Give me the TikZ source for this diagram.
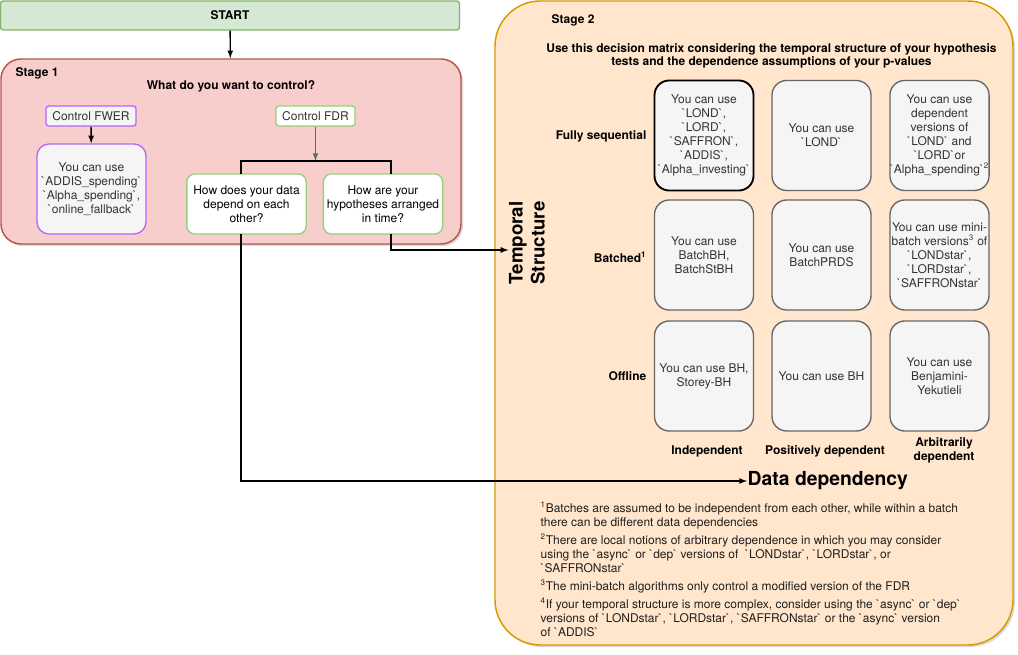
\documentclass[tikz,border=0pt]{standalone}
\usepackage{fontspec}
\setmainfont{TeX Gyre Heros}
\usetikzlibrary{shadows}
\newcommand\bq{\textasciigrave}
\definecolor{startfill}{HTML}{D5E8D4}
\definecolor{startline}{HTML}{82B366}
\definecolor{onefill}{HTML}{F8CECC}
\definecolor{oneline}{HTML}{B85450}
\definecolor{twofill}{HTML}{FFE6CC}
\definecolor{twoline}{HTML}{D79B00}
\definecolor{fwerline}{HTML}{B266FF}
\definecolor{fdrline}{HTML}{97D077}
\definecolor{cellfill}{HTML}{F5F5F5}
\definecolor{cellline}{HTML}{666666}
\definecolor{celltext}{HTML}{333333}
\begin{document}
\begin{tikzpicture}[>=latex, x=0.75pt, y=-0.75pt, line width=1pt,
  font=\fontsize{9}{10.5}\selectfont,
  box/.style={draw, align=center, inner sep=0pt},
  stagebox/.style={box, line width=1.1pt, drop shadow={shadow xshift=1.5pt, shadow yshift=-1.5pt, opacity=0.3}},
  question/.style={box, fill=white, draw=fdrline, rounded corners=6pt, minimum width=89.5pt, minimum height=45pt},
  cell/.style={box, fill=cellfill, draw=cellline, text=celltext, rounded corners=11pt, minimum width=74.25pt, minimum height=82.5pt},
  head/.style={font=\fontsize{9}{10.5}\selectfont\bfseries, align=center, inner sep=0pt},
  big/.style={font=\fontsize{14}{16.5}\selectfont\bfseries, align=center, inner sep=0pt}]
\useasboundingbox (0,0) rectangle (1018,655);

% stage boxes
\node[stagebox, fill=onefill, draw=oneline, rounded corners=15pt, minimum width=345pt, minimum height=138.75pt] (stage1) at (231,151.5){};
\node[stagebox, fill=twofill, draw=twoline, rounded corners=34pt, minimum width=388.5pt, minimum height=483pt] (stage2) at (754,323){};
\node[box, fill=startfill, draw=startline, rounded corners=2pt, minimum width=344.25pt, minimum height=21.75pt, head] (start) at (230,15.5){START};

% stage 1
\node[head, anchor=west] (s1) at (15,73){Stage 1};
\node[head] (want) at (231,86){What do you want to control?};
\node[box, fill=cellfill, draw=fwerline, rounded corners=2pt, minimum width=67.5pt, minimum height=15pt, text=celltext] (fwer) at (91,116){Control FWER};
\node[box, fill=cellfill, draw=fwerline, rounded corners=9pt, minimum width=81.75pt, minimum height=67.5pt, text=celltext] (fweruse) at (91.5,189)
  {You can use\\\bq ADDIS\_spending\bq\\\bq Alpha\_spending\bq,\\\bq online\_fallback\bq};
\node[box, fill=white, draw=fdrline, rounded corners=2pt, minimum width=59.25pt, minimum height=15pt, text=celltext] (fdr) at (315.5,116){Control FDR};
\node[question] (dq) at (246.5,204){How does your data\\depend on each\\other?};
\node[question] (tq) at (383,204){How are your\\hypotheses arranged\\in time?};
\coordinate (split) at (315.5,161);
\coordinate (dqin) at (241,174); \coordinate (dqout) at (241,234);
\coordinate (tqin) at (391,174); \coordinate (tqout) at (391,234);

% stage 2
\node[head, anchor=west] (s2) at (551,20.5){Stage 2};
\node[head, font=\fontsize{9}{10}\selectfont\bfseries] (title) at (771.5,56)
  {Use this decision matrix considering the temporal structure of your hypothesis\\tests and the dependence assumptions of your p-values};
\node[big, rotate=90] (temporal) at (527,243){Temporal\\Structure};
\node[big, anchor=west, font=\fontsize{14.5}{16.5}\selectfont\bfseries] (datadep) at (747,481){Data dependency};

\node[head, anchor=east] (seq) at (647,136){Fully sequential};
\node[head, anchor=east] (bat) at (647,257){Batched\textsuperscript{1}};
\node[head, anchor=east] (off) at (647,376){Offline};

\node[cell, draw=black, line width=1.4pt] (c11) at (704,135.5){You can use\\\bq LOND\bq,\\\bq LORD\bq,\\\bq SAFFRON\bq,\\\bq ADDIS\bq,\\\bq Alpha\_investing\bq};
\node[cell] (c12) at (821.5,135.5){You can use\\\bq LOND\bq};
\node[cell] (c13) at (939.5,135.5){You can use\\dependent\\versions of\\\bq LOND\bq{} and\\\bq LORD\bq or\\\bq Alpha\_spending\bq\textsuperscript{2}};
\node[cell] (c21) at (704,255){You can use\\BatchBH,\\BatchStBH};
\node[cell] (c22) at (821.5,255){You can use\\BatchPRDS};
\node[cell] (c23) at (939.5,255){You can use mini-\\batch versions\textsuperscript{3} of\\\bq LONDstar\bq,\\\bq LORDstar\bq,\\\bq SAFFRONstar\bq};
\node[cell] (c31) at (704,376){You can use BH,\\Storey-BH};
\node[cell] (c32) at (821.5,376){You can use BH};
\node[cell] (c33) at (939.5,376){You can use\\Benjamini-\\Yekutieli};

\node[head] (indep) at (707,451){Independent};
\node[head] (posdep) at (825,451){Positively dependent};
\node[head] (arbdep) at (944,450){Arbitrarily\\dependent};

\node[anchor=north west, align=left, inner sep=0pt, text=celltext!60!black] (notes) at (540,501)
  {\textsuperscript{1}Batches are assumed to be independent from each other, while within a batch\\
   there can be different data dependencies\\[3pt]
   \textsuperscript{2}There are local notions of arbitrary dependence in which you may consider\\
   using the \bq async\bq{} or \bq dep\bq{} versions of \ \bq LONDstar\bq, \bq LORDstar\bq, or\\
   \bq SAFFRONstar\bq\\[3pt]
   \textsuperscript{3}The mini-batch algorithms only control a modified version of the FDR\\[3pt]
   \textsuperscript{4}If your temporal structure is more complex, consider using the \bq async\bq{} or \bq dep\bq\\
   versions of \bq LONDstar\bq, \bq LORDstar\bq, \bq SAFFRONstar\bq{} or the \bq async\bq{} version\\
   of \bq ADDIS\bq};

% connectors
\draw[->] (start) -- (stage1);
\draw[->] (fwer) -- (fweruse);
\draw[->, cellline] (fdr) -- (split);
\draw (dqin) |- (split) -| (tqin);
\draw[->] (dqout) |- (datadep.west);
\draw[->] (tqout) |- ([yshift=-5.25pt]temporal.north);

\end{tikzpicture}
\end{document}
